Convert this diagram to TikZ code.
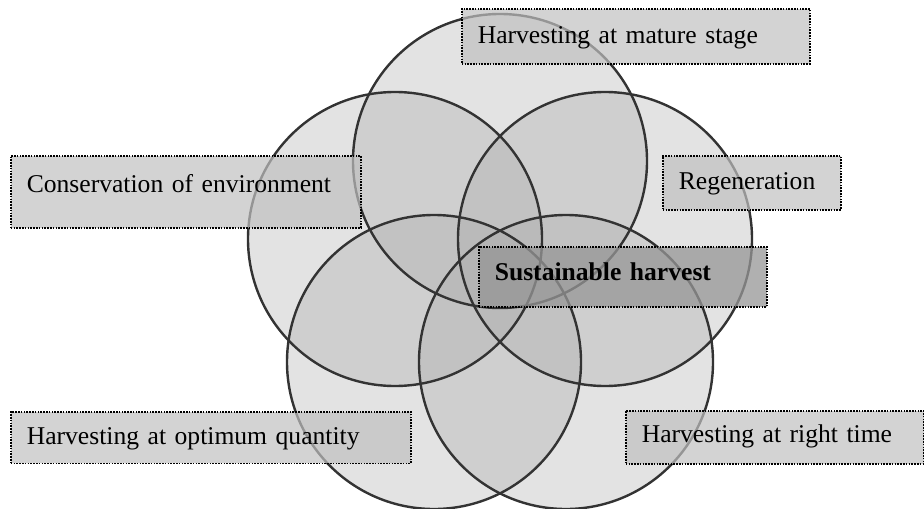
\documentclass[tikz,border=0pt]{standalone}
\usepackage{fontspec}
\setmainfont{Liberation Serif}

\definecolor{ringgray}{RGB}{167,167,167}
\definecolor{rimgray}{RGB}{51,51,51}
\definecolor{taggray}{RGB}{192,192,192}
\definecolor{keygray}{RGB}{150,150,150}

\tikzset{
    disc/.style={circle, minimum size=147pt, inner sep=0pt, fill=ringgray, fill opacity=0.32},
    rim/.style={draw=rimgray, line width=1.2pt},
    tag/.style={anchor=north west, draw, line width=0.8pt, dash pattern=on 0.8pt off 0.6pt,
        fill=taggray, fill opacity=0.7, text opacity=1, inner xsep=8pt, inner ysep=0pt,
        align=left, font=\fontsize{12.8}{15}\selectfont},
    keytag/.style={tag, fill=keygray, fill opacity=0.75, font=\fontsize{12.8}{15}\selectfont\bfseries}
}

\begin{document}
\begin{tikzpicture}[x=0.5pt, y=-0.5pt]
        \useasboundingbox (0,0) rectangle (924,508);

        % Five overlapping discs
        \node[disc] (mature) at (500,161) {};
        \node[disc] (envir) at (395,239) {};
        \node[disc] (regen) at (605,239) {};
        \node[disc] (quant) at (434,362) {};
        \node[disc] (rtime) at (566,362) {};

        % Outlines on top of all fills
        \draw[rim] (mature.center) circle[radius=73.5pt];
        \draw[rim] (envir.center) circle[radius=73.5pt];
        \draw[rim] (regen.center) circle[radius=73.5pt];
        \draw[rim] (quant.center) circle[radius=73.5pt];
        \draw[rim] (rtime.center) circle[radius=73.5pt];

        % Labels
        \node[tag, text width=158pt, text height=17.5pt, text depth=10pt] (lmature) at (461,8) {Harvesting at mature stage};
        \node[tag, text width=159pt, text height=18.3pt, text depth=17.7pt] (lenvir) at (10,155) {Conservation of environment};
        \node[tag, text width=73pt, text height=16.7pt, text depth=10.3pt] (lregen) at (662,155) {Regeneration};
        \node[tag, text width=184pt, text height=16.3pt, text depth=9.5pt] (lquant) at (10,411) {Harvesting at optimum quantity};
        \node[tag, text width=133pt, text height=16pt, text depth=10.5pt] (lrtime) at (625,410) {Harvesting at right time};

        % Centre label
        \node[keytag, text width=128pt, text height=16.7pt, text depth=13.3pt] (lcore) at (478,246) {Sustainable harvest};
    \end{tikzpicture}
\end{document}
